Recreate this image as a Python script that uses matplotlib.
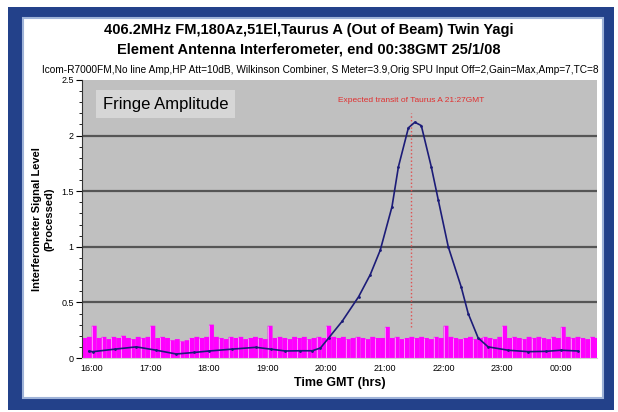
import numpy as np
import matplotlib.pyplot as plt
from matplotlib.patches import Rectangle

plt.rcParams['font.family'] = ['Liberation Sans', 'DejaVu Sans']

# Fringe amplitude (blue trace), time in hours GMT (24 = 00:00)
fringe_t = [15.95, 16.02, 16.4, 16.76, 17.1, 17.44, 17.75, 18.0, 18.4, 18.8, 19.05, 19.3,
            19.55, 19.76, 19.9, 20.04, 20.27, 20.55, 20.75, 20.92, 21.12, 21.23, 21.40,
            21.51, 21.62, 21.79, 21.91, 22.08, 22.30, 22.42, 22.59, 22.76, 23.1, 23.44,
            23.75, 24.0, 24.29]
fringe_v = [0.06, 0.057, 0.08, 0.10, 0.07, 0.036, 0.05, 0.063, 0.08, 0.096, 0.08, 0.063,
            0.065, 0.065, 0.09, 0.18, 0.33, 0.55, 0.75, 0.97, 1.36, 1.72, 2.07,
            2.12, 2.09, 1.72, 1.42, 1.0, 0.64, 0.40, 0.18, 0.10, 0.07, 0.057,
            0.06, 0.07, 0.063]

# magenta background trace, one value per 5 minutes starting 15:50
noise_start = 15 + 50 / 60
noise_v = [
    0.18, 0.19,
    0.29, 0.18, 0.19, 0.17, 0.19, 0.18, 0.20, 0.18, 0.17, 0.19, 0.18, 0.19,
    0.29, 0.18, 0.19, 0.18, 0.16, 0.17, 0.15, 0.16, 0.18, 0.19, 0.18, 0.19,
    0.30, 0.19, 0.18, 0.17, 0.19, 0.18, 0.19, 0.17, 0.18, 0.19, 0.18, 0.17,
    0.29, 0.18, 0.19, 0.18, 0.17, 0.19, 0.18, 0.19, 0.17, 0.18, 0.19, 0.18,
    0.29, 0.19, 0.18, 0.19, 0.17, 0.18, 0.19, 0.18, 0.17, 0.19, 0.18, 0.18,
    0.28, 0.18, 0.19, 0.17, 0.18, 0.19, 0.18, 0.19, 0.18, 0.17, 0.19, 0.18,
    0.29, 0.19, 0.18, 0.17, 0.18, 0.19, 0.17, 0.18, 0.19, 0.18, 0.17, 0.19,
    0.29, 0.18, 0.19, 0.18, 0.17, 0.19, 0.18, 0.19, 0.18, 0.17, 0.19, 0.18,
    0.28, 0.19, 0.18, 0.19, 0.18, 0.17, 0.19, 0.18,
]

hour_ticks = [16, 17, 18, 19, 20, 21, 22, 23, 24]
hour_labels = ['16:00', '17:00', '18:00', '19:00', '20:00', '21:00', '22:00', '23:00', '00:00']
transit_t = 21 + 27 / 60

W, H = 618, 412
fig = plt.figure(figsize=(W / 100, H / 100), dpi=100)

# navy frame + white panel
fig.add_artist(Rectangle((8 / W, 2 / H), 606 / W, 403 / H, transform=fig.transFigure,
                         facecolor='#23418a', edgecolor='none', zorder=-3))
fig.add_artist(Rectangle((23 / W, 14 / H), 580 / W, 380 / H, transform=fig.transFigure,
                         facecolor='white', edgecolor='#9fb3d8', linewidth=1.5, zorder=-2))

ax = fig.add_axes([82 / W, 1 - 358 / H, (597 - 82) / W, (358 - 80) / H])
ax.set_facecolor('#c0c0c0')

noise_t = noise_start + np.arange(len(noise_v)) / 12
ax.bar(noise_t, noise_v, width=1 / 12, align='edge', color='#ff00ff', linewidth=0,
       snap=False, zorder=2)
# faint separators between every other bar, like the original
ax.vlines(noise_t[::2], 0, np.array(noise_v)[::2], color='#ff9cff', lw=0.6, zorder=2.5)
ax.plot([transit_t, transit_t], [0.28, 2.2], color='#e05050', linestyle=':', lw=1.0, zorder=3)
ax.plot(fringe_t, fringe_v, color='#1c1c78', lw=1.2, marker='.', markersize=2, zorder=4)

ax.set_xlim(15 + 50 / 60, 24 + 37 / 60)
ax.set_ylim(0, 2.5)
for g in [0.5, 1, 1.5, 2]:
    ax.axhline(g, color='#555555', lw=1.6, zorder=1)

ax.set_xticks(hour_ticks)
ax.set_xticklabels(hour_labels, fontsize=6.5)
ax.set_yticks([0, 0.5, 1, 1.5, 2, 2.5])
ax.set_yticklabels(['0', '0.5', '1', '1.5', '2', '2.5'], fontsize=6.5)
ax.set_yticks(np.arange(0, 2.51, 0.1), minor=True)
ax.tick_params(axis='x', length=0, pad=4)
ax.tick_params(axis='y', which='major', length=4, width=0.8, pad=2)
ax.tick_params(axis='y', which='minor', length=2, width=0.6)
for s in ['top', 'right']:
    ax.spines[s].set_visible(False)
ax.spines['bottom'].set_color('#d0d0d0')
ax.spines['left'].set_color('#333333')

ax.set_xlabel('Time GMT (hrs)', fontsize=9, fontweight='bold', labelpad=3)
ax.set_ylabel('Interferometer Signal Level\n(Processed)', fontsize=8, fontweight='bold',
              labelpad=5, linespacing=1.25)

ax.text(0.04, 0.94, 'Fringe Amplitude', transform=ax.transAxes, fontsize=12, va='top',
        bbox=dict(boxstyle='square,pad=0.4', facecolor='#d6d6d6', edgecolor='none'))
ax.text(transit_t, 2.32, 'Expected transit of Taurus A 21:27GMT', fontsize=6,
        color='#e03030', ha='center', va='center')

fig.text(0.5, 1 - 30 / H, '406.2MHz FM,180Az,51El,Taurus A (Out of Beam) Twin Yagi',
         ha='center', va='center', fontsize=10.5, fontweight='bold')
fig.text(0.5, 1 - 50 / H, 'Element Antenna Interferometer, end 00:38GMT 25/1/08',
         ha='center', va='center', fontsize=10.5, fontweight='bold')
fig.text(320 / W, 1 - 70 / H,
         'Icom-R7000FM,No line Amp,HP Att=10dB, Wilkinson Combiner, S Meter=3.9,'
         'Orig SPU Input Off=2,Gain=Max,Amp=7,TC=8',
         ha='center', va='center', fontsize=7.3)

fig.savefig('out.png', dpi=100)
